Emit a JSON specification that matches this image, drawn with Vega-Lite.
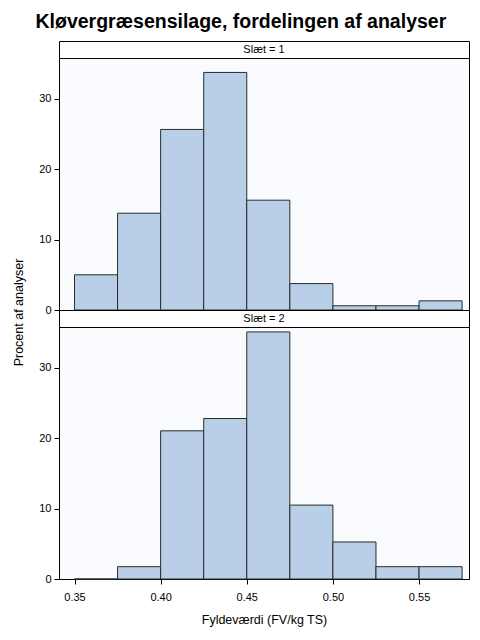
{
  "$schema": "https://vega.github.io/schema/vega-lite/v6.json",
  "background": "white",
  "padding": {"left": 12, "top": 12, "right": 11, "bottom": 8},
  "title": {
    "text": "Kløvergræsensilage, fordelingen af analyser",
    "font": "Liberation Sans",
    "fontSize": 19.5,
    "fontWeight": "bold",
    "color": "black",
    "anchor": "middle",
    "offset": 8
  },
  "spacing": 0,
  "bounds": "flush",
  "config": {
    "font": "Liberation Sans",
    "view": {"stroke": "black", "strokeWidth": 1},
    "axis": {
      "grid": false,
      "domain": false,
      "tickSize": 5,
      "tickColor": "black",
      "labelColor": "black",
      "labelFontSize": 11,
      "labelPadding": 3,
      "titleColor": "black",
      "titleFontSize": 12.5,
      "titleFontWeight": "normal"
    }
  },
  "datasets": {
    "hist": [
      {"slaet": 1, "lo": 0.35, "hi": 0.375, "pct": 5.0},
      {"slaet": 1, "lo": 0.375, "hi": 0.4, "pct": 13.75},
      {"slaet": 1, "lo": 0.4, "hi": 0.425, "pct": 25.65},
      {"slaet": 1, "lo": 0.425, "hi": 0.45, "pct": 33.75},
      {"slaet": 1, "lo": 0.45, "hi": 0.475, "pct": 15.6},
      {"slaet": 1, "lo": 0.475, "hi": 0.5, "pct": 3.75},
      {"slaet": 1, "lo": 0.5, "hi": 0.525, "pct": 0.6},
      {"slaet": 1, "lo": 0.525, "hi": 0.55, "pct": 0.6},
      {"slaet": 1, "lo": 0.55, "hi": 0.575, "pct": 1.3},
      {"slaet": 2, "lo": 0.35, "hi": 0.375, "pct": 0},
      {"slaet": 2, "lo": 0.375, "hi": 0.4, "pct": 1.75},
      {"slaet": 2, "lo": 0.4, "hi": 0.425, "pct": 21.05},
      {"slaet": 2, "lo": 0.425, "hi": 0.45, "pct": 22.8},
      {"slaet": 2, "lo": 0.45, "hi": 0.475, "pct": 35.1},
      {"slaet": 2, "lo": 0.475, "hi": 0.5, "pct": 10.5},
      {"slaet": 2, "lo": 0.5, "hi": 0.525, "pct": 5.26},
      {"slaet": 2, "lo": 0.525, "hi": 0.55, "pct": 1.75},
      {"slaet": 2, "lo": 0.55, "hi": 0.575, "pct": 1.75}
    ]
  },
  "vconcat": [
    {
      "width": 410,
      "height": 17,
      "view": {"fill": "white", "stroke": "black", "strokeWidth": 1},
      "data": {"values": [{"label": "Slæt = 1"}]},
      "mark": {"type": "text", "fontSize": 11, "color": "black"},
      "encoding": {"text": {"field": "label"}}
    },
    {
      "width": 410,
      "height": 252,
      "view": {"fill": "#FAFBFE", "stroke": "black", "strokeWidth": 1},
      "data": {"name": "hist"},
      "transform": [{"filter": "datum.slaet == 1"}],
      "mark": {"type": "rect", "fill": "#B9CFE7", "stroke": "#2b2b2b", "strokeWidth": 1},
      "encoding": {
        "x": {
          "field": "lo",
          "type": "quantitative",
          "scale": {"domain": [0.341, 0.579], "nice": false, "zero": false},
          "axis": null
        },
        "x2": {"field": "hi"},
        "y": {
          "field": "pct",
          "type": "quantitative",
          "scale": {"domain": [0, 35.8], "nice": false},
          "axis": {
            "values": [0, 10, 20, 30],
            "title": "Procent af analyser",
            "titleY": 254,
            "titleAlign": "center",
            "titlePadding": 13
          }
        },
        "y2": {"datum": 0}
      }
    },
    {
      "width": 410,
      "height": 17,
      "view": {"fill": "white", "stroke": "black", "strokeWidth": 1},
      "data": {"values": [{"label": "Slæt = 2"}]},
      "mark": {"type": "text", "fontSize": 11, "color": "black"},
      "encoding": {"text": {"field": "label"}}
    },
    {
      "width": 410,
      "height": 252,
      "view": {"fill": "#FAFBFE", "stroke": "black", "strokeWidth": 1},
      "data": {"name": "hist"},
      "transform": [{"filter": "datum.slaet == 2"}],
      "mark": {"type": "rect", "fill": "#B9CFE7", "stroke": "#2b2b2b", "strokeWidth": 1},
      "encoding": {
        "x": {
          "field": "lo",
          "type": "quantitative",
          "scale": {"domain": [0.341, 0.579], "nice": false, "zero": false},
          "axis": {
            "values": [0.35, 0.4, 0.45, 0.5, 0.55],
            "format": ".2f",
            "title": "Fyldeværdi (FV/kg TS)",
            "labelPadding": 7,
            "titlePadding": 11
          }
        },
        "x2": {"field": "hi"},
        "y": {
          "field": "pct",
          "type": "quantitative",
          "scale": {"domain": [0, 35.8], "nice": false},
          "axis": {"values": [0, 10, 20, 30], "title": null}
        },
        "y2": {"datum": 0}
      }
    }
  ]
}
